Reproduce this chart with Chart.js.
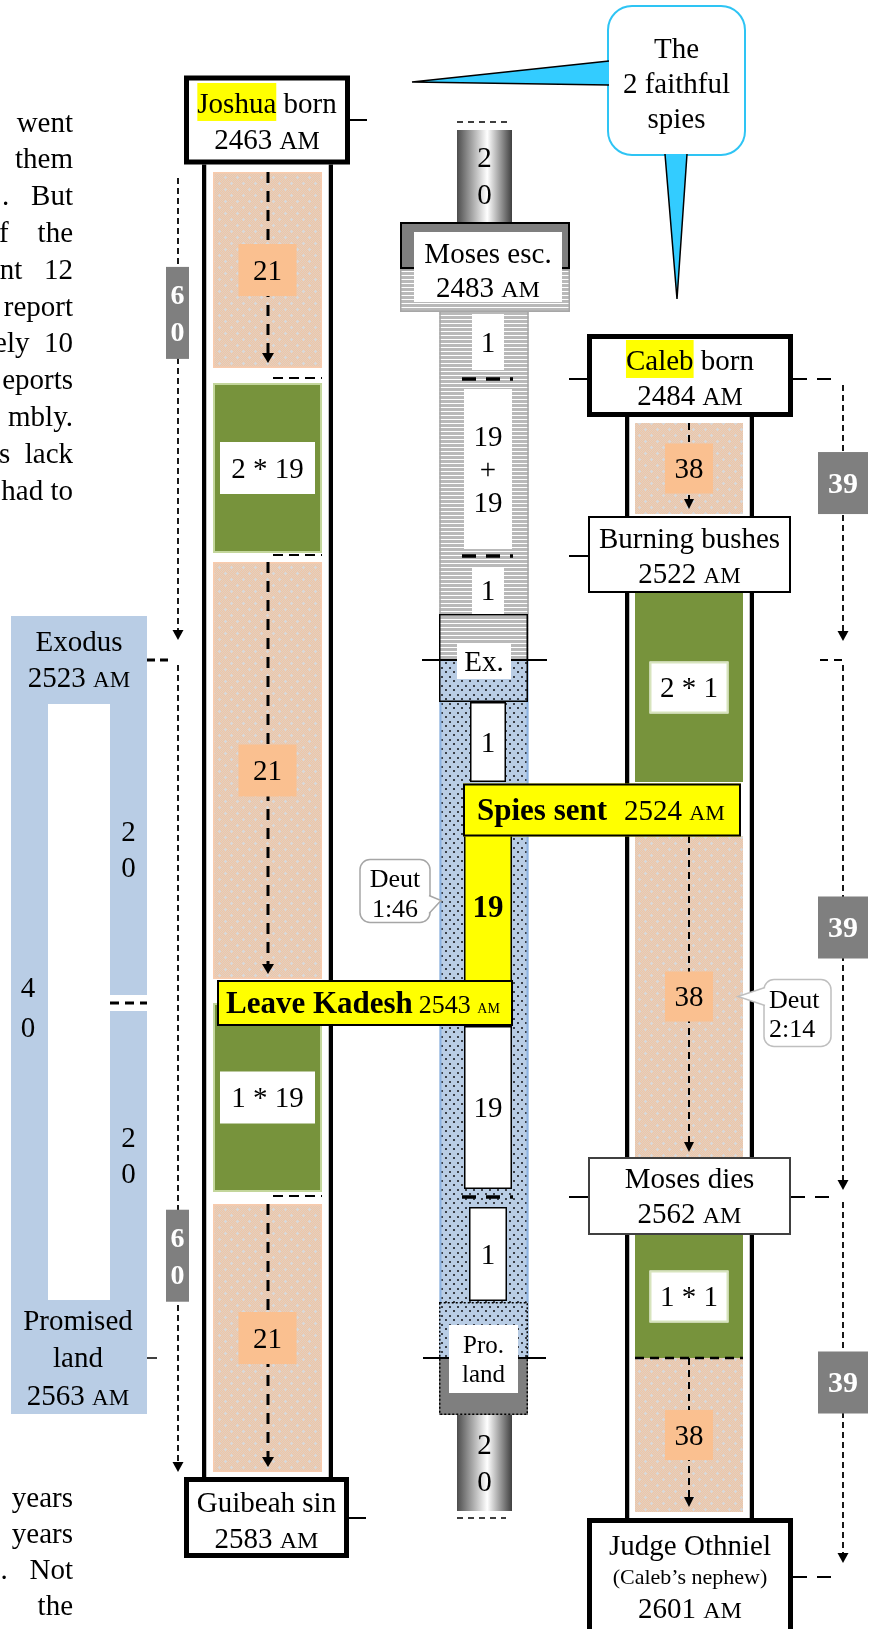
<!DOCTYPE html>
<html>
<head>
<meta charset="utf-8">
<title>Joshua, Moses and Caleb</title>
<script src="https://cdn.jsdelivr.net/npm/chart.js@4.4.1/dist/chart.umd.min.js"></script>
<style>
  html, body { margin: 0; padding: 0; background: #ffffff; overflow: hidden; }
  #chart { display: block; }
</style>
</head>
<body>
<canvas id="chart" width="872" height="1629"></canvas>
<script>
// ------------------------
// Data (years AM)
// ------------------------
const eventNames = ['Joshua born', 'Moses esc.', 'Caleb born', 'Burning bushes', 'Exodus', 'Spies sent',
    'Leave Kadesh', 'Moses dies', 'Promised land', 'Guibeah sin', 'Judge Othniel'];
const eventYears = [2463, 2483, 2484, 2522, 2523, 2524, 2543, 2562, 2563, 2583, 2601];

// Joshua column
const joshuaFrom = [2463, 2484, 2522, 2543, 2562];
const joshuaTo = [2484, 2522, 2543, 2562, 2583];
const joshuaText = ['21', '2 * 19', '21', '1 * 19', '21'];
const joshuaKind = ['wander', 'faith', 'wander', 'faith', 'wander'];

// Caleb column
const calebFrom = [2484, 2522, 2524, 2562, 2563];
const calebTo = [2522, 2524, 2562, 2563, 2601];
const calebText = ['38', '2 * 1', '38', '1 * 1', '38'];
const calebKind = ['wander', 'faith', 'wander', 'faith', 'wander'];

// Moses column
const mosesAwayFrom = [2463, 2563];
const mosesAwayTo = [2483, 2583];
const mosesAwayText = ['2\n0', '2\n0'];
const mosesBandFrom = [2483, 2523];
const mosesBandTo = [2523, 2563];
const mosesFrom = [2483, 2484, 2522, 2523, 2524, 2543, 2562];
const mosesTo = [2484, 2522, 2523, 2524, 2543, 2562, 2563];
const mosesText = ['1', '19\n+\n19', '1', '1', '19', '19', '1'];
const mosesKind = ['midian', 'midian', 'midian', 'desert', 'kadesh', 'desert', 'desert'];

// Wilderness panel
const desertFrom = [2523, 2543];
const desertTo = [2543, 2563];
const desertText = ['2\n0', '2\n0'];
const desertTotal = '4\n0';

// Bracket arrows
const span60From = [2463, 2523];
const span60To = [2523, 2583];
const span39From = [2484, 2523, 2562];
const span39To = [2523, 2562, 2601];

// ------------------------
// Layout and styles
// ------------------------
const DESIGN_H = 1629;
// schematic axis: each event year gets its own row (not to scale)
const eventRows = [120, 312, 379, 556, 660, 810, 1003, 1197, 1358, 1518, 1577];

const colX = { panelL: 29.5, panelR: 128.5, span60: 178, joshua: 267.5, moses: 484.5, mosesIn: 488, caleb: 689, calebRail: 689.5, span39: 843 };

// [top, bottom, side] insets of the visible part of each bar
const joshuaInset = [[52, 11], [4, 3], [6, 24], [0, 5], [7, 46]];
const calebInset = [[44, 42], [37, 28], [26, 40], [38, 0], [0, 65]];
const awayInset = [[10, 90], [57, 7]];
const mosesInset = [[2, 9, 8], [10, 7, 0], [11, 46, 8], [42, 28, 6], [0, 0, 0], [23, 8, 0], [10, 57, 5]];
const desertInset = [[0, 8], [8, 0]];

const span60Pad = [[58, 20], [5, 46]];
const span60Tag = [0.292, 0.732];
const span39Pad = [[6, 19], [5, 7], [5, 14]];
const span39Tag = [0.383, 0.5, 0.5];

const BLUE = '#B9CDE5';
const GREEN = '#77933C';
const PEACH = '#FAC090';
const YELLOW = '#FFFF00';
const GRAY = '#7F7F7F';
const CYAN = '#33CCFF';
const CLEAR = 'rgba(0,0,0,0)';
const SERIF = "'Liberation Serif', 'Times New Roman', serif";

const leftTop = ['went', 'them', '.   But', 'f    the', 'nt   12', 'report', 'ely  10', 'eports', 'mbly.', 's  lack', 'had to'];
const leftBottom = ['years', 'years', '.   Not', 'the'];

// ------------------------
// Fill patterns
// ------------------------
const canvas = document.getElementById('chart');
const mainCtx = canvas.getContext('2d');

function makePattern(w, h, paint) {
    const c = document.createElement('canvas');
    c.width = w;
    c.height = h;
    paint(c.getContext('2d'));
    return mainCtx.createPattern(c, 'repeat');
}

const tanFill = makePattern(12, 12, g => {
    g.fillStyle = '#EEC6A5';
    g.fillRect(0, 0, 12, 12);
    g.fillStyle = '#E3CFC2';
    for (let y = 0; y < 12; y++) {
        for (let x = y % 2; x < 12; x += 2) g.fillRect(x, y, 1, 1);
    }
    g.fillStyle = '#D9D9D9';
    [[3, 3], [9, 9]].forEach(([x, y]) => {
        g.fillRect(x - 1, y, 3, 1);
        g.fillRect(x, y - 1, 1, 3);
    });
});

const stripeFill = makePattern(4, 4, g => {
    g.fillStyle = '#FFFFFF';
    g.fillRect(0, 0, 4, 4);
    g.fillStyle = '#B9B9B9';
    g.fillRect(0, 0, 4, 3);
});

const dotFill = makePattern(8, 9, g => {
    g.fillStyle = BLUE;
    g.fillRect(0, 0, 8, 9);
    g.fillStyle = '#3B4048';
    g.fillRect(1, 1, 2, 2);
    g.fillRect(5, 5, 2, 2);
});

// metal look of the years Moses spent away
const cylinderFill = (() => {
    const g = mainCtx.createLinearGradient(colX.moses - 27.5, 0, colX.moses + 27.5, 0);
    g.addColorStop(0, '#4D4D4D');
    g.addColorStop(0.55, '#FFFFFF');
    g.addColorStop(1, '#3F3F3F');
    return g;
})();

// ------------------------
// Schematic time scale
// ------------------------
class SchematicScale extends Chart.LinearScale {
    getPixelForValue(value) {
        let i = 1;
        while (i < eventYears.length - 1 && value > eventYears[i]) i++;
        const t = (value - eventYears[i - 1]) / (eventYears[i] - eventYears[i - 1]);
        const row = eventRows[i - 1] + t * (eventRows[i] - eventRows[i - 1]);
        return this.top + row / DESIGN_H * (this.bottom - this.top);
    }
    getValueForPixel(pixel) {
        const row = (pixel - this.top) / (this.bottom - this.top) * DESIGN_H;
        let i = 1;
        while (i < eventRows.length - 1 && row > eventRows[i]) i++;
        const t = (row - eventRows[i - 1]) / (eventRows[i] - eventRows[i - 1]);
        return eventYears[i - 1] + t * (eventYears[i] - eventYears[i - 1]);
    }
}
SchematicScale.id = 'schematic';
Chart.register(SchematicScale);

// ------------------------
// Drawing helpers
// ------------------------
const font = (size, bold) => (bold ? 'bold ' : '') + size + 'px ' + SERIF;

function text(ctx, s, x, y, size, opt = {}) {
    ctx.font = font(size, opt.bold);
    ctx.fillStyle = opt.color || '#000';
    ctx.textAlign = opt.align || 'center';
    ctx.textBaseline = 'alphabetic';
    ctx.fillText(s, x, y + size * 0.33);
}

function lines(ctx, arr, x, yc, gap, size, opt) {
    const y0 = yc - gap * (arr.length - 1) / 2;
    arr.forEach((s, i) => text(ctx, s, x, y0 + i * gap, size, opt));
}

function yearText(ctx, year, x, y, size, amSize, align) {
    ctx.font = font(size);
    const a = year + ' ';
    const wa = ctx.measureText(a).width;
    ctx.font = font(amSize);
    const wb = ctx.measureText('AM').width;
    const x0 = align === 'left' ? x : x - (wa + wb) / 2;
    const base = y + size * 0.33;
    ctx.fillStyle = '#000';
    ctx.textAlign = 'left';
    ctx.textBaseline = 'alphabetic';
    ctx.font = font(size);
    ctx.fillText(a, x0, base);
    ctx.font = font(amSize);
    ctx.fillText('AM', x0 + wa, base);
}

function bornLine(ctx, name, rest, cx, y, size) {
    ctx.font = font(size);
    const w1 = ctx.measureText(name).width;
    const w2 = ctx.measureText(rest).width;
    const x0 = cx - (w1 + w2) / 2;
    ctx.fillStyle = YELLOW;
    ctx.fillRect(x0, y - size * 0.69, w1, size * 1.31);
    ctx.fillStyle = '#000';
    ctx.textAlign = 'left';
    ctx.textBaseline = 'alphabetic';
    ctx.fillText(name + rest, x0, y + size * 0.33);
}

function rect(ctx, x0, y0, x1, y1, fill, stroke, lw, dash) {
    if (fill) {
        ctx.fillStyle = fill;
        ctx.fillRect(x0, y0, x1 - x0, y1 - y0);
    }
    if (stroke && lw) {
        ctx.save();
        ctx.setLineDash(dash || []);
        ctx.lineWidth = lw;
        ctx.strokeStyle = stroke;
        ctx.strokeRect(x0 + lw / 2, y0 + lw / 2, x1 - x0 - lw, y1 - y0 - lw);
        ctx.restore();
    }
}

function hline(ctx, x0, x1, y, lw, dash, color) {
    ctx.save();
    ctx.setLineDash(dash || []);
    ctx.lineWidth = lw;
    ctx.strokeStyle = color || '#000';
    ctx.beginPath();
    ctx.moveTo(x0, y);
    ctx.lineTo(x1, y);
    ctx.stroke();
    ctx.restore();
}

function vline(ctx, x, y0, y1, lw, color) {
    ctx.save();
    ctx.lineWidth = lw;
    ctx.strokeStyle = color;
    ctx.beginPath();
    ctx.moveTo(x, y0);
    ctx.lineTo(x, y1);
    ctx.stroke();
    ctx.restore();
}

function vArrow(ctx, x, y0, y1, lw, dash, hw, hh) {
    ctx.save();
    ctx.setLineDash(dash);
    ctx.lineWidth = lw;
    ctx.strokeStyle = '#000';
    ctx.beginPath();
    ctx.moveTo(x, y0);
    ctx.lineTo(x, y1 - hh);
    ctx.stroke();
    ctx.setLineDash([]);
    ctx.fillStyle = '#000';
    ctx.beginPath();
    ctx.moveTo(x - hw / 2, y1 - hh);
    ctx.lineTo(x + hw / 2, y1 - hh);
    ctx.lineTo(x, y1);
    ctx.closePath();
    ctx.fill();
    ctx.restore();
}

function roundPath(ctx, x0, y0, x1, y1, r) {
    ctx.beginPath();
    ctx.moveTo(x0 + r, y0);
    ctx.arcTo(x1, y0, x1, y1, r);
    ctx.arcTo(x1, y1, x0, y1, r);
    ctx.arcTo(x0, y1, x0, y0, r);
    ctx.arcTo(x0, y0, x1, y0, r);
    ctx.closePath();
}

function tail(ctx, pts, fill, stroke, lw) {
    ctx.save();
    ctx.fillStyle = fill;
    ctx.beginPath();
    ctx.moveTo(pts[0][0], pts[0][1]);
    ctx.lineTo(pts[1][0], pts[1][1]);
    ctx.lineTo(pts[2][0], pts[2][1]);
    ctx.closePath();
    ctx.fill();
    ctx.strokeStyle = stroke;
    ctx.lineWidth = lw;
    ctx.beginPath();
    ctx.moveTo(pts[0][0], pts[0][1]);
    ctx.lineTo(pts[1][0], pts[1][1]);
    ctx.lineTo(pts[2][0], pts[2][1]);
    ctx.stroke();
    ctx.restore();
}

// visible rectangle of a bar element
function segRect(chart, ds, i, inset) {
    const el = chart.getDatasetMeta(ds).data[i];
    const p = el.getProps(['x', 'y', 'base', 'width'], true);
    const v = inset || [0, 0, 0];
    const s = v[2] || 0;
    return {
        left: p.x - p.width / 2 + s,
        right: p.x + p.width / 2 - s,
        top: Math.min(p.y, p.base) + v[0],
        bottom: Math.max(p.y, p.base) - v[1]
    };
}

const insetBorder = ins => c => {
    const v = ins[c.dataIndex] || [0, 0, 0];
    return { top: v[0], bottom: v[1], left: v[2] || 0, right: v[2] || 0 };
};

const pts = (from, to, x) => from.map((f, i) => ({ x: x, y: [f, to[i]] }));

// dataset indexes
const DS = { joshuaRail: 0, calebRail: 1, panelL: 2, panelR: 3, bands: 4, away: 5, joshua: 6, caleb: 7, moses: 8 };

// ------------------------
// Annotation plugin
// ------------------------
const diagramPlugin = {
    id: 'diagram',
    afterDatasetsDraw(chart) {
        const ctx = chart.ctx;
        const xs = chart.scales.x;
        const ys = chart.scales.y;
        const X = v => xs.getPixelForValue(v);
        const Y = v => ys.getPixelForValue(v);
        const yr = name => eventYears[eventNames.indexOf(name)];

        // ---- wilderness panel (40 years)
        const exo = Y(yr('Exodus'));
        const pro = Y(yr('Promised land'));
        const kad = Y(yr('Leave Kadesh'));
        ctx.fillStyle = BLUE;
        ctx.fillRect(X(11), exo - 44, 136, 88);
        ctx.fillRect(X(11), pro - 58, 136, 114);
        hline(ctx, X(110), X(147), kad, 3, [9, 6]);
        text(ctx, 'Exodus', X(79), exo - 19, 29);
        yearText(ctx, yr('Exodus'), X(79), exo + 17, 29, 23);
        text(ctx, 'Promised', X(78), pro - 38, 29);
        text(ctx, 'land', X(78), pro - 1, 29);
        yearText(ctx, yr('Promised land'), X(78), pro + 37, 29, 23);
        desertFrom.forEach((f, i) => {
            const r = segRect(chart, DS.panelR, i, desertInset[i]);
            const top = Math.max(r.top, exo + 44);
            const bottom = Math.min(r.bottom, pro - 58);
            lines(ctx, desertText[i].split('\n'), (r.left + r.right) / 2, (top + bottom) / 2, 36, 29);
        });
        lines(ctx, desertTotal.split('\n'), X(28), (exo + 44 + pro - 58) / 2 + 5, 40, 29);
        hline(ctx, X(147), X(173), exo, 3, [8, 5]);
        hline(ctx, X(147), X(157), pro, 1.5);

        // ---- Joshua segments
        joshuaFrom.forEach((f, i) => {
            const r = segRect(chart, DS.joshua, i, joshuaInset[i]);
            const cx = (r.left + r.right) / 2;
            const cy = (r.top + r.bottom) / 2;
            if (joshuaKind[i] === 'wander') {
                rect(ctx, r.left, r.top, r.right, r.bottom, null, '#F8CBAD', 1.5);
                vArrow(ctx, cx + 0.5, r.top, r.bottom - 5, 3, [11, 8], 12, 10);
                rect(ctx, cx - 29, cy - 26, cx + 29, cy + 26, PEACH);
            } else {
                rect(ctx, r.left, r.top, r.right, r.bottom, null, '#C3D69B', 2);
                rect(ctx, cx - 47.5, cy - 26, cx + 47.5, cy + 26, '#FFFFFF');
            }
            text(ctx, joshuaText[i], cx, cy, 29);
        });

        // ---- Caleb segments
        calebFrom.forEach((f, i) => {
            const r = segRect(chart, DS.caleb, i, calebInset[i]);
            const cx = (r.left + r.right) / 2;
            const cy = (r.top + r.bottom) / 2;
            if (calebKind[i] === 'wander') {
                vArrow(ctx, cx, r.top, r.bottom - 5, 2, [7, 5], 10, 10);
                rect(ctx, cx - 24, cy - 25, cx + 24, cy + 25, PEACH);
            } else {
                rect(ctx, cx - 39.5, cy - 26, cx + 39.5, cy + 26, '#FFFFFF', '#D7E4BD', 2);
            }
            text(ctx, calebText[i], cx, cy, 29);
        });
        {
            const r = segRect(chart, DS.caleb, 4, calebInset[4]);
            hline(ctx, r.left, r.right, Y(calebFrom[4]), 2.5, [9, 6]);
        }

        // ---- Moses column
        {
            const r0 = segRect(chart, DS.bands, 0);
            vline(ctx, r0.left + 0.5, r0.top, r0.bottom, 1.5, '#A6A6A6');
            vline(ctx, r0.right - 0.5, r0.top, r0.bottom, 1.5, '#A6A6A6');
            const r1 = segRect(chart, DS.bands, 1);
            vline(ctx, r1.left + 1, r1.top, r1.bottom, 2, '#8DB3E2');
            vline(ctx, r1.right - 1, r1.top, r1.bottom, 2, '#8DB3E2');
        }
        mosesFrom.forEach((f, i) => {
            const r = segRect(chart, DS.moses, i, mosesInset[i]);
            const cx = (r.left + r.right) / 2;
            const cy = (r.top + r.bottom) / 2;
            if (mosesKind[i] !== 'midian') {
                rect(ctx, r.left, r.top, r.right, r.bottom, null, '#000', 1.5);
            }
            const bold = mosesKind[i] === 'kadesh';
            lines(ctx, mosesText[i].split('\n'), cx, cy, 33, bold ? 31 : 29, { bold: bold });
        });
        mosesAwayFrom.forEach((f, i) => {
            const r = segRect(chart, DS.away, i, awayInset[i]);
            lines(ctx, mosesAwayText[i].split('\n'), (r.left + r.right) / 2, (r.top + r.bottom) / 2, 37, 29);
        });
        [yr('Caleb born'), yr('Burning bushes'), yr('Moses dies')].forEach(v => {
            hline(ctx, X(462), X(513), Y(v), 3.5, [14, 10]);
        });
        hline(ctx, X(457), X(507), Y(mosesAwayFrom[0]) + 2, 1.5, [6, 5]);
        hline(ctx, X(457), X(506), Y(mosesAwayTo[1]), 1.5, [6, 5]);

        // ---- Joshua end-of-stretch markers
        [yr('Caleb born'), yr('Burning bushes'), yr('Moses dies')].forEach(v => {
            hline(ctx, X(273), X(322), Y(v) - 1, 2, [10, 6]);
        });

        // ---- connectors
        hline(ctx, X(350), X(367), Y(yr('Joshua born')), 2);
        hline(ctx, X(569), X(588), Y(yr('Caleb born')), 2);
        hline(ctx, X(793), X(838), Y(yr('Caleb born')), 1.8, [14, 10]);
        hline(ctx, X(569), X(588), Y(yr('Burning bushes')), 2);
        hline(ctx, X(820), X(843), exo, 1.8, [8, 6]);
        hline(ctx, X(569), X(588), Y(yr('Moses dies')), 2);
        hline(ctx, X(791), X(838), Y(yr('Moses dies')), 1.8, [14, 10]);
        hline(ctx, X(349), X(366), Y(yr('Guibeah sin')), 2);
        hline(ctx, X(793), X(838), Y(yr('Judge Othniel')), 1.8, [14, 10]);

        // ---- event boxes
        {
            const j = Y(yr('Joshua born'));
            rect(ctx, X(184), j - 44.5, X(350), j + 44.5, '#FFFFFF', '#000', 5);
            bornLine(ctx, 'Joshua', ' born', X(267), j - 17, 29);
            yearText(ctx, yr('Joshua born'), X(267), j + 19, 29, 25);
        }
        {
            const b = Y(yr('Moses esc.'));
            rect(ctx, X(400), b - 43, X(570), b, stripeFill, '#A6A6A6', 1.5);
            rect(ctx, X(400), b - 90, X(570), b - 43, GRAY, '#000', 2);
            rect(ctx, X(414), b - 80, X(562), b - 10, '#FFFFFF');
            text(ctx, 'Moses esc.', X(488), b - 59, 29);
            yearText(ctx, yr('Moses esc.'), X(488), b - 25, 29, 24);
        }
        {
            const c = Y(yr('Caleb born')) - 3.5;
            rect(ctx, X(587), c - 41.5, X(793), c + 41.5, '#FFFFFF', '#000', 5);
            bornLine(ctx, 'Caleb', ' born', X(690), c - 15.5, 29);
            yearText(ctx, yr('Caleb born'), X(690), c + 19.5, 29, 25);
        }
        {
            const b = Y(yr('Burning bushes')) - 1.5;
            rect(ctx, X(588), b - 38.5, X(791), b + 38.5, '#FFFFFF', '#000', 2);
            text(ctx, 'Burning bushes', X(689.5), b - 16.5, 29);
            yearText(ctx, yr('Burning bushes'), X(689.5), b + 18.5, 29, 23);
        }
        {
            const e = exo;
            rect(ctx, X(439), e - 46, X(528), e, stripeFill);
            rect(ctx, X(439), e, X(528), e + 42, dotFill);
            rect(ctx, X(439), e - 46, X(528), e + 42, null, '#000', 1.5);
            hline(ctx, X(422), X(547), e, 2);
            rect(ctx, X(457), e - 17, X(511), e + 19, '#FFFFFF');
            text(ctx, 'Ex.', X(484), e + 1, 29);
        }
        {
            const s = Y(yr('Spies sent'));
            rect(ctx, X(463), s - 26.5, X(741), s + 26.5, YELLOW, '#000', 2);
            let x = X(477);
            const base = s + 29 * 0.33;
            ctx.textAlign = 'left';
            ctx.textBaseline = 'alphabetic';
            ctx.fillStyle = '#000';
            ctx.font = font(31, true);
            ctx.fillText('Spies sent', x, base);
            x += ctx.measureText('Spies sent').width + 17;
            yearText(ctx, yr('Spies sent'), x, s, 29, 22, 'left');
        }
        {
            const k = kad;
            rect(ctx, X(217), k - 23, X(513), k + 23, YELLOW, '#000', 2);
            let x = X(226);
            ctx.textAlign = 'left';
            ctx.textBaseline = 'alphabetic';
            ctx.fillStyle = '#000';
            ctx.font = font(31, true);
            ctx.fillText('Leave Kadesh', x, k + 29 * 0.33);
            x += ctx.measureText('Leave Kadesh').width + 6;
            yearText(ctx, yr('Leave Kadesh'), x, k + 1, 26, 14, 'left');
        }
        {
            const m = Y(yr('Moses dies')) - 1;
            rect(ctx, X(588), m - 39, X(791), m + 39, '#FFFFFF', '#404040', 2);
            text(ctx, 'Moses dies', X(689.5), m - 18, 29);
            yearText(ctx, yr('Moses dies'), X(689.5), m + 17, 29, 24);
        }
        {
            const p = pro;
            rect(ctx, X(439), p - 56, X(528), p, dotFill);
            rect(ctx, X(439), p, X(528), p + 57, GRAY);
            rect(ctx, X(439), p - 56, X(528), p + 57, null, '#000', 1.5, [2, 2]);
            hline(ctx, X(423), X(546), p, 2);
            rect(ctx, X(449), p - 33, X(518), p + 35, '#FFFFFF');
            text(ctx, 'Pro.', X(483.5), p - 13, 25);
            text(ctx, 'land', X(483.5), p + 16, 25);
        }
        {
            const g = Y(yr('Guibeah sin'));
            rect(ctx, X(184), g - 41, X(349), g + 40, '#FFFFFF', '#000', 5);
            text(ctx, 'Guibeah sin', X(266.5), g - 16, 29);
            yearText(ctx, yr('Guibeah sin'), X(266.5), g + 20, 29, 24);
        }
        {
            const o = Y(yr('Judge Othniel'));
            rect(ctx, X(587), o - 59, X(793), o + 62, '#FFFFFF', '#000', 5);
            text(ctx, 'Judge Othniel', X(690), o - 32, 29);
            text(ctx, '(Caleb\u2019s nephew)', X(690), o, 22);
            yearText(ctx, yr('Judge Othniel'), X(690), o + 31, 29, 24);
        }

        // ---- bracket arrows (60 and 39 years)
        span60From.forEach((f, i) => {
            const y0 = Y(f) + span60Pad[i][0];
            const y1 = Y(span60To[i]) - span60Pad[i][1];
            vArrow(ctx, X(colX.span60), y0, y1, 1.8, [6, 4], 11, 10);
            const tc = y0 + (y1 - y0) * span60Tag[i];
            rect(ctx, X(166), tc - 46, X(189), tc + 46, GRAY);
            lines(ctx, String(span60To[i] - f).split(''), X(177.5), tc + 0.5, 37, 28, { bold: true, color: '#FFFFFF' });
        });
        span39From.forEach((f, i) => {
            const y0 = Y(f) + span39Pad[i][0];
            const y1 = Y(span39To[i]) - span39Pad[i][1];
            vArrow(ctx, X(colX.span39), y0, y1, 1.8, [6, 4], 11, 10);
            const tc = y0 + (y1 - y0) * span39Tag[i];
            rect(ctx, X(818), tc - 31, X(868), tc + 31, GRAY);
            text(ctx, String(span39To[i] - f), X(843), tc, 30, { bold: true, color: '#FFFFFF' });
        });

        // ---- callouts
        ctx.save();
        roundPath(ctx, 608, 6, 745, 155, 24);
        ctx.fillStyle = '#FFFFFF';
        ctx.fill();
        ctx.lineWidth = 2;
        ctx.strokeStyle = '#2EC4F4';
        ctx.stroke();
        ctx.restore();
        tail(ctx, [[609, 61], [412, 82], [609, 85]], CYAN, '#000', 1.5);
        tail(ctx, [[665, 154], [677, 299], [687, 154]], CYAN, '#000', 1.5);
        lines(ctx, ['The', '2 faithful', 'spies'], 676.5, 83, 35, 29);

        {
            const r = segRect(chart, DS.moses, 4, mosesInset[4]);
            const ty = (r.top + r.bottom) / 2 - 6;
            ctx.save();
            roundPath(ctx, 360, ty - 41, 430, ty + 22, 10);
            ctx.fillStyle = '#FFFFFF';
            ctx.fill();
            ctx.lineWidth = 1.5;
            ctx.strokeStyle = '#A6A6A6';
            ctx.stroke();
            ctx.restore();
            tail(ctx, [[429, ty - 5], [441, ty], [429, ty + 13]], '#FFFFFF', '#A6A6A6', 1.5);
            text(ctx, 'Deut', 395, ty - 22, 26);
            text(ctx, '1:46', 395, ty + 8, 26);
        }
        {
            const r = segRect(chart, DS.caleb, 2, calebInset[2]);
            const ty = (r.top + r.bottom) / 2;
            ctx.save();
            roundPath(ctx, 764, ty - 17, 831, ty + 50, 10);
            ctx.fillStyle = '#FFFFFF';
            ctx.fill();
            ctx.lineWidth = 1.5;
            ctx.strokeStyle = '#BFBFBF';
            ctx.stroke();
            ctx.restore();
            tail(ctx, [[765, ty - 9], [738, ty], [765, ty + 9]], '#FFFFFF', '#BFBFBF', 1.5);
            text(ctx, 'Deut', 769, ty + 3, 26, { align: 'left' });
            text(ctx, '2:14', 769, ty + 32, 26, { align: 'left' });
        }

        // ---- clipped paragraph text on the left
        leftTop.forEach((s, i) => text(ctx, s, 73, 122 + i * 36.8, 29, { align: 'right' }));
        leftBottom.forEach((s, i) => text(ctx, s, 73, 1497 + i * 36, 29, { align: 'right' }));
    }
};

// ------------------------
// Chart
// ------------------------
new Chart(canvas, {
    type: 'bar',
    data: {
        datasets: [
            {
                label: 'Joshua rail',
                data: [{ x: colX.joshua, y: [joshuaFrom[0], joshuaTo[joshuaTo.length - 1]] }],
                backgroundColor: '#FFFFFF',
                borderColor: '#000000',
                borderWidth: { top: 0, bottom: 0, left: 4.5, right: 4.5 },
                barThickness: 131,
                order: 30
            },
            {
                label: 'Caleb rail',
                data: [{ x: colX.calebRail, y: [calebFrom[0], calebTo[calebTo.length - 1]] }],
                backgroundColor: '#FFFFFF',
                borderColor: '#000000',
                borderWidth: { top: 0, bottom: 0, left: 4.5, right: 4.5 },
                barThickness: 129,
                order: 30
            },
            {
                label: '40 years',
                data: [{ x: colX.panelL, y: [desertFrom[0], desertTo[desertTo.length - 1]] }],
                backgroundColor: BLUE,
                barThickness: 37,
                order: 20
            },
            {
                label: '20 + 20 years',
                data: pts(desertFrom, desertTo, colX.panelR),
                backgroundColor: BLUE,
                borderColor: CLEAR,
                borderWidth: insetBorder(desertInset),
                barThickness: 37,
                order: 20
            },
            {
                label: 'Moses bands',
                data: pts(mosesBandFrom, mosesBandTo, colX.moses - 0.5),
                backgroundColor: [stripeFill, dotFill],
                barThickness: 89,
                order: 20
            },
            {
                label: 'Moses away',
                data: pts(mosesAwayFrom, mosesAwayTo, colX.moses),
                backgroundColor: cylinderFill,
                borderColor: CLEAR,
                borderWidth: insetBorder(awayInset),
                barThickness: 55,
                order: 20
            },
            {
                label: 'Joshua',
                data: pts(joshuaFrom, joshuaTo, colX.joshua),
                backgroundColor: c => joshuaKind[c.dataIndex] === 'wander' ? tanFill : GREEN,
                borderColor: CLEAR,
                borderWidth: insetBorder(joshuaInset),
                barThickness: 109,
                order: 10
            },
            {
                label: 'Caleb',
                data: pts(calebFrom, calebTo, colX.caleb),
                backgroundColor: c => calebKind[c.dataIndex] === 'wander' ? tanFill : GREEN,
                borderColor: CLEAR,
                borderWidth: insetBorder(calebInset),
                barThickness: 108,
                order: 10
            },
            {
                label: 'Moses',
                data: pts(mosesFrom, mosesTo, colX.mosesIn),
                backgroundColor: c => mosesKind[c.dataIndex] === 'kadesh' ? YELLOW : '#FFFFFF',
                borderColor: CLEAR,
                borderWidth: insetBorder(mosesInset),
                barThickness: 48,
                order: 5
            }
        ]
    },
    options: {
        responsive: false,
        animation: false,
        events: [],
        layout: { padding: 0 },
        datasets: {
            bar: { grouped: false, borderSkipped: false, inflateAmount: 0 }
        },
        plugins: {
            legend: { display: false },
            tooltip: { enabled: false },
            title: { display: false }
        },
        scales: {
            x: { type: 'linear', min: 0, max: 872, offset: false, display: false, grid: { display: false } },
            y: { type: 'schematic', min: 2440, max: 2620, display: false, grid: { display: false } }
        }
    },
    plugins: [diagramPlugin]
});
</script>
</body>
</html>
